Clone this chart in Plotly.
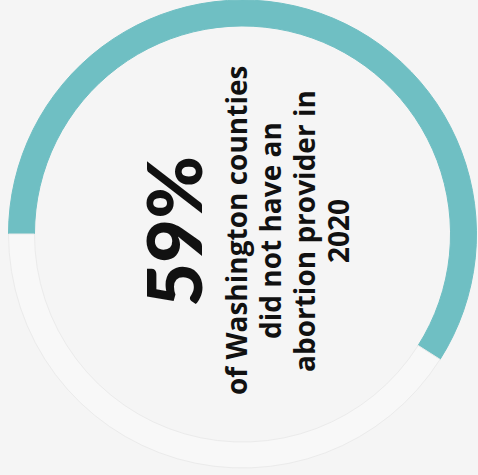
import plotly.graph_objects as go

# Share of Washington counties with / without an abortion provider in 2020
labels = ["No abortion provider", "Has abortion provider"]
values = [59, 41]
slice_colors = ["#6fbfc3", "#f8f8f8"]
edge_colors = ["#6fbfc3", "#ebebeb"]

headline = f"{values[0]}%"
caption_lines = ["of Washington counties", "did not have an", "abortion provider in", "2020"]

W, H = 478, 475

fig = go.Figure(
    go.Pie(
        labels=labels,
        values=values,
        hole=0.889,
        sort=False,
        direction="clockwise",
        rotation=270,
        marker=dict(colors=slice_colors, line=dict(color=edge_colors, width=1)),
        textinfo="none",
        hoverinfo="label+percent",
        showlegend=False,
        domain=dict(x=[7 / W, 1.0], y=[7 / H, 1.0]),
    )
)

fig.add_annotation(
    text=headline,
    textangle=-90,
    xref="paper", yref="paper",
    x=173 / W, y=1 - 232 / H,
    xanchor="center", yanchor="middle",
    showarrow=False,
    font=dict(family="Lato", size=76, color="#111111", weight=900),
)

# caption set line by line (rotated, so each line is a vertical column)
line_x = [236, 270, 304, 338]
for line, px in zip(caption_lines, line_x):
    fig.add_annotation(
        text=line,
        textangle=-90,
        xref="paper", yref="paper",
        x=px / W, y=1 - 231 / H,
        xanchor="center", yanchor="middle",
        showarrow=False,
        font=dict(family="Open Sans", size=28, color="#111111", weight=700),
    )

fig.update_layout(
    width=W, height=H,
    margin=dict(l=0, r=0, t=0, b=0),
    paper_bgcolor="#f5f5f5",
    plot_bgcolor="#f5f5f5",
)

fig.write_html("out.html")
